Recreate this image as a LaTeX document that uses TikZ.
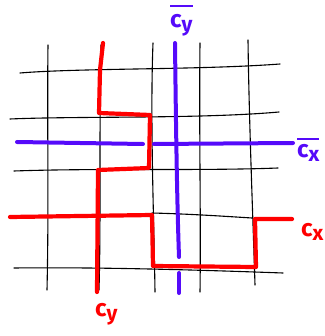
\documentclass[tikz,border=0pt]{standalone}
\usepackage{fontspec}
\newfontfamily\lblfont{Fira Sans}
\definecolor{myred}{RGB}{255,0,0}
\definecolor{myblue}{RGB}{85,10,250}
\newcommand{\cylbl}[2]{\lblfont\bfseries\fontsize{24}{24}\selectfont #1\raisebox{-4pt}{\fontsize{21}{21}\selectfont #2}}
\newcommand{\barlbl}[3]{\vbox{\hrule height 2.2pt\kern #3\hbox{\cylbl{#1}{#2}}}}
\begin{document}
\begin{tikzpicture}[x=1pt,y=-1pt,
  grid/.style={black,line width=1.1pt,line cap=round,line join=round},
  redpath/.style={myred,line width=4.2pt,line cap=round,line join=round},
  bluepath/.style={myblue,line width=4pt,line cap=round,line join=round},
  lbl/.style={inner sep=0pt,anchor=base west}]
\useasboundingbox (0,0) rectangle (324,336);
% black grid, vertical
\draw[grid] (48,45) .. controls (47,120) and (49,200) .. (47,290);
\draw[grid] (101,45) .. controls (99,140) and (101,220) .. (99,290);
\draw[grid] (153,43) .. controls (150,120) and (154,220) .. (155,292);
\draw[grid] (200,43) .. controls (199,130) and (201,220) .. (200,292);
\draw[grid] (248,40) .. controls (249,120) and (253,220) .. (255,285);
% black grid, horizontal
\draw[grid] (20,73) .. controls (80,68) and (200,70) .. (280,64);
\draw[grid] (10,119) .. controls (80,116) and (200,119) .. (279,112);
\draw[grid] (14,171) .. controls (100,168) and (200,171) .. (278,168);
\draw[grid] (152,213) .. controls (190,214) and (220,216) .. (252,218);
\draw[grid] (14,268) .. controls (100,267) and (200,270) .. (283,273);
% blue lines
\draw[bluepath] (17,142) -- (143,144);
\draw[bluepath] (154,144) -- (293,143);
\draw[bluepath] (175,43) .. controls (176,130) and (177,200) .. (179,257);
\draw[bluepath] (179,273) -- (179,293);
% red paths
\draw[redpath] (103,43) -- (100,70) -- (99,113) -- (150,115) -- (149,168) -- (98,170) -- (97,292);
\draw[redpath] (10,217) -- (152,215) -- (153,266) -- (256,267) -- (255,219) -- (292,219);
% labels
\node[lbl,text=myblue] (cybar) at (170,28) {\barlbl{c}{y}{8pt}};
\node[lbl,text=myblue] (cxbar) at (297,158) {\barlbl{c}{x}{5pt}};
\node[lbl,text=myred] (cx) at (301,236) {\cylbl{c}{x}};
\node[lbl,text=myred] (cy) at (95,316) {\cylbl{c}{y}};
\end{tikzpicture}
\end{document}
